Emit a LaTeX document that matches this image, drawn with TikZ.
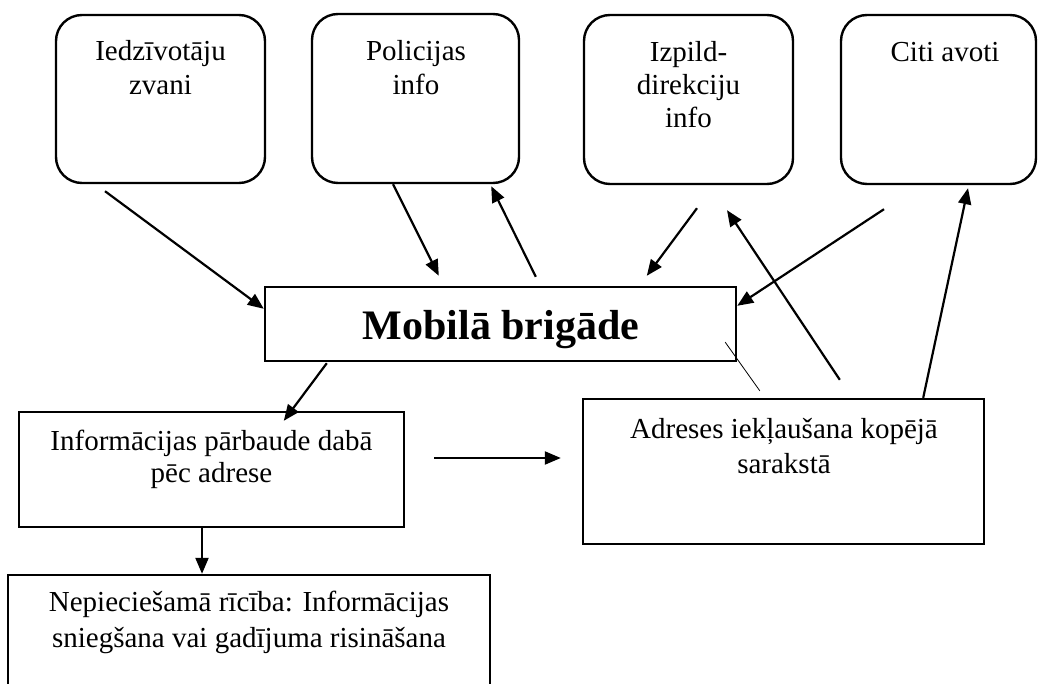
\documentclass[tikz,border=0pt]{standalone}
\usepackage{fontspec}
\setmainfont{Liberation Serif}
\usetikzlibrary{arrows.meta,calc}
\begin{document}
\begin{tikzpicture}[x=1pt,y=-1pt,
  src/.style={draw,line width=2.4pt,rounded corners=26pt,inner sep=0pt},
  plain/.style={draw,line width=2.4pt,inner sep=0pt},
  lbl/.style={anchor=base,align=center,inner sep=0pt,font=\fontsize{29}{33.5}\selectfont},
  arr/.style={line width=2.2pt,-{Triangle[length=16pt,width=13pt]}},
  thin/.style={line width=0.8pt}]
\clip (0,0) rectangle (1038,684);
\useasboundingbox (0,0) rectangle (1038,684);
% source boxes
\node[src,minimum width=209pt,minimum height=168pt] (b1) at (160.5,99) {};
\node[src,minimum width=207pt,minimum height=169pt] (b2) at (415.5,98.5) {};
\node[src,minimum width=209pt,minimum height=169pt] (b3) at (688.5,99.5) {};
\node[src,minimum width=195pt,minimum height=169pt] (b4) at (938.5,99.5) {};
\node[lbl,font=\fontsize{29}{34}\selectfont] (t1) at (160.5,95) {Iedzīvotāju\\zvani};
\node[lbl,font=\fontsize{29}{34}\selectfont] (t2) at (416,95) {Policijas\\info};
\node[lbl,font=\fontsize{29}{33}\selectfont] (t3) at (688.5,128) {Izpild-\\direkciju\\info};
\node[lbl] (t4) at (945,62) {Citi avoti};
% central box
\node[plain,minimum width=471pt,minimum height=74pt] (mob) at (500.5,324) {};
\node[anchor=base,inner sep=0pt,font=\fontsize{42}{48}\selectfont\bfseries] (tm) at (501,340) {Mobilā brigāde};
% lower boxes
\node[plain,minimum width=385pt,minimum height=115pt] (info) at (211.5,469.5) {};
\node[lbl,font=\fontsize{29}{32}\selectfont] (ti) at (211.5,482) {Informācijas pārbaude dabā\\pēc adrese};
\node[plain,minimum width=401pt,minimum height=145pt] (adr) at (783.5,471.5) {};
\node[lbl,font=\fontsize{29}{35}\selectfont] (ta) at (784,473) {Adreses iekļaušana kopējā\\sarakstā};
\node[plain,minimum width=482pt,minimum height=140pt] (act) at (249,645) {};
\node[lbl,font=\fontsize{29}{36}\selectfont] (tc) at (249,647) {Nepieciešamā rīcība: Informācijas\\sniegšana vai gadījuma risināšana};
% connectors
\draw[arr] ($(b1.south)+(-55.5,7)$) -- ($(mob.north west)+(0,23)$);
\draw[arr] ($(b2.south)+(-22.5,0)$) -- ($(mob.north west)+(175,-10)$);
\draw[arr] ($(mob.north west)+(272,-9)$) -- ($(b2.south east)+(-29,2)$);
\draw[arr] ($(b3.south)+(8.5,23)$) -- ($(mob.north west)+(383,-10)$);
\draw[arr] ($(adr.north west)+(258,-18)$) -- ($(b3.south)+(38.5,25)$);
\draw[arr] ($(b4.south)+(-54.5,24)$) -- ($(mob.north east)+(0,20)$);
\draw[arr] ($(adr.north east)+(-62,0)$) -- ($(b4.south)+(29.5,3)$);
\draw[arr] ($(mob.south west)+(63,1)$) -- ($(info.north west)+(266,10)$);
\draw[arr] ($(info.east)+(29,-11.5)$) -- ($(adr.west)+(-21,-13.5)$);
\draw[arr] ($(info.south)+(-9.5,0)$) -- ($(act.north)+(-47,0)$);
\draw[thin] ($(mob.south east)+(-12,-20)$) -- ($(adr.north west)+(178,-7)$);
\end{tikzpicture}
\end{document}
